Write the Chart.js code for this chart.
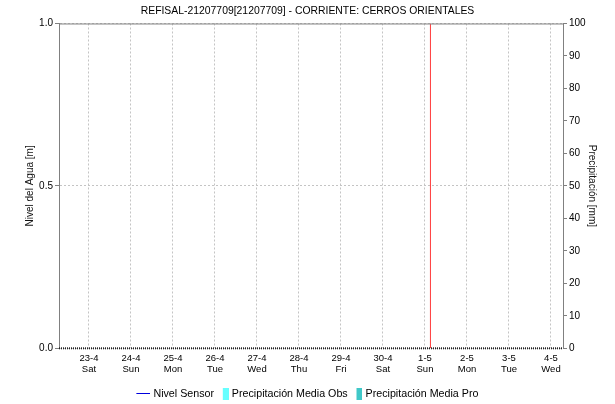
<!DOCTYPE html>
<html>
<head>
<meta charset="utf-8">
<script src="https://cdn.jsdelivr.net/npm/chart.js@4.4.1/dist/chart.umd.min.js"></script>
<style>
html,body{margin:0;padding:0;background:#fff;}
#wrap{width:615px;height:404px;position:relative;}
</style>
</head>
<body>
<div id="wrap"><canvas id="c" width="615" height="404"></canvas></div>
<script>
// ---- data ----
const chartTitle = "REFISAL-21207709[21207709] - CORRIENTE: CERROS ORIENTALES";
const dayLabels = ["23-4","24-4","25-4","26-4","27-4","28-4","29-4","30-4","1-5","2-5","3-5","4-5"];
const weekdays = ["Sat","Sun","Mon","Tue","Wed","Thu","Fri","Sat","Sun","Mon","Tue","Wed"];
const xRange = [-0.714, 11.286];          // in days relative to 23-4 00:00
const currentTime = 8.13;                   // red "now" marker (1-5 ~03:00)
const nivelSensor = [];                     // no level readings
const precipObs = [];                       // no observed precipitation
const precipPro = [];                       // no forecast precipitation
const levelTicks = [0, 0.5, 1.0];
const precipMax = 100;

function swatch(w, h, draw) {
  const c = document.createElement('canvas');
  c.width = w; c.height = h;
  draw(c.getContext('2d'));
  return c;
}
const lineSw = swatch(16, 1, g => { g.fillStyle = '#0000dd'; g.fillRect(2, 0, 14, 1); });
const obsSw = swatch(16, 12, g => { g.fillStyle = '#66ffff'; g.fillRect(10, 0, 6, 12); });
const proSw = swatch(16, 12, g => { g.fillStyle = '#40c8c8'; g.fillRect(10, 0, 6, 12); });

const frame = {
  id: 'frame',
  afterLayout(chart) {
    const lg = chart.legend;
    if (lg) { lg.top += 5; lg.bottom += 5; }
  },
  afterDatasetsDraw(chart) {
    const a = chart.chartArea, ctx = chart.ctx;
    ctx.save();
    ctx.strokeStyle = '#808080';
    ctx.lineWidth = 1;
    ctx.beginPath();
    ctx.moveTo(a.left, a.top + 0.5);
    ctx.lineTo(a.right, a.top + 0.5);
    ctx.stroke();
    // dark dotted base line
    ctx.strokeStyle = '#222';
    ctx.lineWidth = 2;
    ctx.setLineDash([1, 1]);
    ctx.beginPath();
    ctx.moveTo(a.left, a.bottom);
    ctx.lineTo(a.right, a.bottom);
    ctx.stroke();
    ctx.restore();
  }
};

const FONT = "'Liberation Sans', Arial, sans-serif";

new Chart(document.getElementById('c'), {
  data: {
    datasets: [
      { type: 'line', label: 'Nivel Sensor', data: nivelSensor, borderColor: '#0000dd', borderWidth: 1, pointRadius: 0, yAxisID: 'y', _sw: lineSw },
      { type: 'bar', label: 'Precipitación Media Obs', data: precipObs, backgroundColor: '#66ffff', yAxisID: 'y1', _sw: obsSw },
      { type: 'bar', label: 'Precipitación Media Pro', data: precipPro, backgroundColor: '#40c8c8', yAxisID: 'y1', _sw: proSw },
      { type: 'line', label: 'now', data: [{x: currentTime, y: 0}, {x: currentTime, y: 1}], borderColor: '#ff3b3b', borderWidth: 1, pointRadius: 0, yAxisID: 'y', _hide: true }
    ]
  },
  options: {
    responsive: false,
    animation: false,
    layout: { padding: { left: 0, right: 0, top: 0, bottom: 0 } },
    plugins: {
      title: {
        display: true, text: chartTitle, color: '#000',
        font: { family: FONT, size: 10.4, weight: 'normal' },
        padding: { top: 5, bottom: 6 }
      },
      legend: {
        position: 'bottom',
        labels: {
          usePointStyle: true,
          pointStyleWidth: 11.5,
          boxHeight: 12,
          padding: 1,
          color: '#222',
          font: { family: FONT, size: 10.7 },
          generateLabels(chart) {
            return chart.data.datasets.map((ds, i) => ({
              text: ds.label, datasetIndex: i, pointStyle: ds._sw,
              fillStyle: 'transparent', strokeStyle: 'transparent', lineWidth: 0, hidden: false
            })).filter(it => !chart.data.datasets[it.datasetIndex]._hide);
          }
        }
      },
      tooltip: { enabled: false }
    },
    scales: {
      x: {
        type: 'linear', min: xRange[0], max: xRange[1], offset: false,
        afterBuildTicks: s => { s.ticks = dayLabels.map((_, i) => ({ value: i })); },
        afterFit: s => { s.height = 34; },
        ticks: {
          autoSkip: false, maxRotation: 0, padding: 5, color: '#000',
          font: { family: FONT, size: 9.5, lineHeight: 1.15 },
          callback: v => [dayLabels[v], weekdays[v]]
        },
        grid: { color: '#c4c4c4', drawTicks: false, lineWidth: 1, offset: false },
        border: { display: false, dash: [2, 2] }
      },
      y: {
        position: 'left', min: 0, max: 1,
        afterBuildTicks: s => { s.ticks = levelTicks.map(v => ({ value: v })); },
        afterFit: s => { s.width = 59; },
        ticks: { color: '#000', font: { family: FONT, size: 10 }, padding: 2, callback: v => v.toFixed(1) },
        grid: { color: '#c4c4c4', tickLength: 4, tickColor: '#808080', tickBorderDash: [], lineWidth: 1 },
        border: { color: '#808080', width: 1, dash: [2, 2] },
        title: { display: true, text: 'Nivel del Agua [m]', color: '#111', font: { family: FONT, size: 10 }, padding: { top: 24, bottom: 0 } }
      },
      y1: {
        position: 'right', min: 0, max: precipMax,
        afterFit: s => { s.width = 52; },
        ticks: { stepSize: 10, color: '#000', font: { family: FONT, size: 10 }, padding: 2 },
        grid: { drawOnChartArea: false, tickLength: 4, color: '#808080' },
        border: { color: '#808080', width: 1 },
        title: { display: true, text: 'Precipitación [mm]', color: '#111', font: { family: FONT, size: 10 }, padding: { top: 17, bottom: 0 } }
      }
    }
  },
  plugins: [frame]
});
</script>
</body>
</html>
